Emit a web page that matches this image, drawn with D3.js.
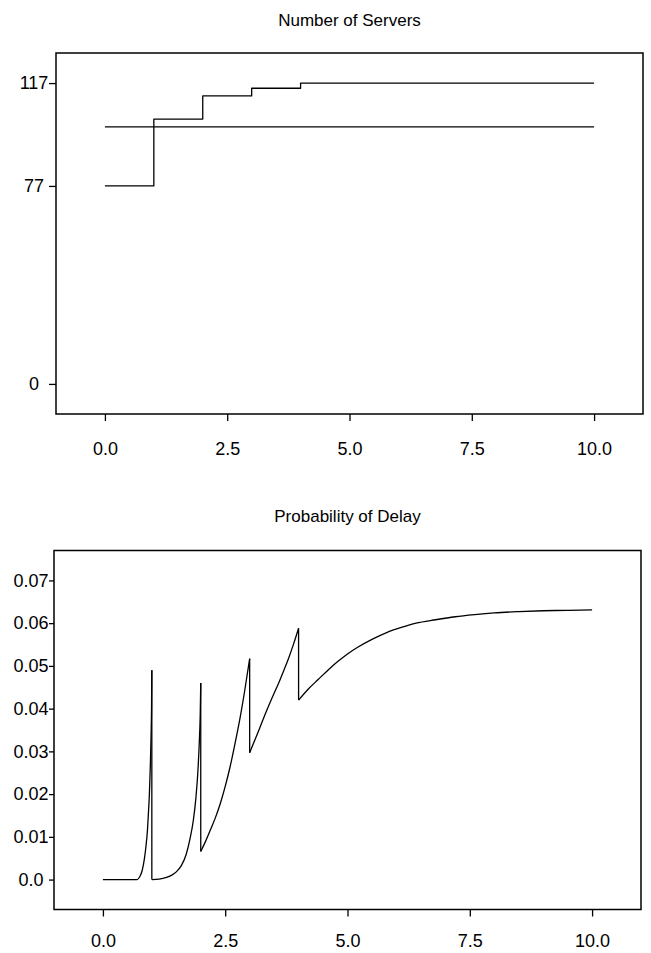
<!DOCTYPE html>
<html>
<head>
<meta charset="utf-8">
<script src="https://cdn.jsdelivr.net/npm/d3@7"></script>
<style>
    body { margin: 0; background: #fff; }
    text { font-family: "Liberation Sans", Arial, Helvetica, sans-serif; fill: #000; }
</style>
</head>
<body>
<svg id="chart-svg"></svg>
<script>
// top panel: number of servers (step function) and the constant reference level
var serverTimes = [0, 1, 2, 3, 4, 10]
var serverCounts = [77, 103, 112, 115, 117, 117]
var referenceTimes = [0, 10]
var referenceCounts = [100, 100]
var serverTicks = [0, 77, 117]

// bottom panel: probability of delay (a repeated time = jump at a staffing change)
var delayTimes = [0, 0.7, 0.75, 0.8, 0.85, 0.88, 0.91, 0.93, 0.95, 0.97, 0.985, 0.995, 1.0,
    1.0, 1.15, 1.3, 1.4, 1.5, 1.6, 1.7, 1.78, 1.85, 1.9, 1.94, 1.97, 1.99, 2.0,
    2.0, 2.1, 2.2, 2.3, 2.4, 2.5, 2.6, 2.7, 2.8, 2.9, 3.0,
    3.0, 3.1, 3.2, 3.3, 3.45, 3.6, 3.7, 3.8, 3.9, 4.0,
    4.0, 4.2, 4.4, 4.6, 4.8, 5.0, 5.2, 5.5, 5.8, 6.1, 6.4, 6.8, 7.2, 7.6, 8.0, 8.5, 9.0, 9.5, 10.0]
var delayProbs = [0, 0, 0.0006, 0.002, 0.005, 0.0078, 0.0115, 0.0155, 0.020, 0.027, 0.034, 0.041, 0.049,
    0, 0.0001, 0.0005, 0.001, 0.0018, 0.0032, 0.0058, 0.0095, 0.014, 0.019, 0.025, 0.032, 0.039, 0.046,
    0.0066, 0.009, 0.0117, 0.0145, 0.0178, 0.0218, 0.0264, 0.0318, 0.0376, 0.0443, 0.0517,
    0.0297, 0.0325, 0.0353, 0.0382, 0.0423, 0.0462, 0.049, 0.0519, 0.0552, 0.0588,
    0.042, 0.0446, 0.0468, 0.049, 0.051, 0.0528, 0.0543, 0.0562, 0.0578, 0.059, 0.06, 0.0608, 0.0615, 0.062, 0.0624, 0.0627, 0.0629, 0.063, 0.0631]
var delayTicks = [0, 0.01, 0.02, 0.03, 0.04, 0.05, 0.06, 0.07]
var delayTickLabels = ["0.0", "0.01", "0.02", "0.03", "0.04", "0.05", "0.06", "0.07"]

// shared x axis
var timeTicks = [0, 2.5, 5, 7.5, 10]
var timeTickLabels = ["0.0", "2.5", "5.0", "7.5", "10.0"]

var svg = d3.select("#chart-svg")
    .attr("width", 651)
    .attr("height", 953)

svg.append("rect")
   .attr("width", 651)
   .attr("height", 953)
   .attr("fill", "#fff")

// split a series into smooth pieces wherever the time repeats
function splitAtJumps(ts, vs){
    var pieces = [[]]
    ts.forEach((t, i) => {
        if(i > 0 && t == ts[i - 1]){
            pieces.push([])
        }
        pieces[pieces.length - 1].push([t, vs[i]])
    })
    return pieces
}

function drawPanel(opts){
    var g = svg.append("g")

    var x = d3.scaleLinear()
              .domain([-1, 11])
              .range([opts.left, opts.right])
    var y = d3.scaleLinear()
              .domain(opts.yDomain)
              .range([opts.bottom, opts.top])

    // title
    g.append("text")
     .attr("x", (opts.left + opts.right) / 2)
     .attr("y", opts.titleY)
     .attr("text-anchor", "middle")
     .attr("font-size", "17px")
     .text(opts.title)

    // frame
    g.append("rect")
     .attr("x", opts.left)
     .attr("y", opts.top)
     .attr("width", opts.right - opts.left)
     .attr("height", opts.bottom - opts.top)
     .attr("fill", "none")
     .attr("stroke", "#000")
     .attr("stroke-width", 1.5)

    // y axis
    var yAxis = g.append("g")
       .attr("transform", `translate(${opts.left},0)`)
       .call(d3.axisLeft(y).tickValues(opts.yTicks)
                .tickSize(opts.yTickLen)
                .tickFormat((d, i) => opts.yLabels[i]))
    yAxis.select(".domain").remove()
    yAxis.selectAll(".tick line").attr("stroke", "#000").attr("stroke-width", 1.3)
    yAxis.selectAll(".tick text")
         .attr("x", -opts.yLabelOffset)
         .attr("text-anchor", "middle")
         .attr("font-size", "18px")
         .attr("font-family", null)
         .attr("fill", "#000")

    // x axis
    var xAxis = g.append("g")
       .attr("transform", `translate(0,${opts.bottom})`)
       .call(d3.axisBottom(x).tickValues(timeTicks)
                .tickSize(7)
                .tickFormat((d, i) => timeTickLabels[i]))
    xAxis.select(".domain").remove()
    xAxis.selectAll(".tick line").attr("stroke", "#000").attr("stroke-width", 1.3)
    xAxis.selectAll(".tick text")
         .attr("y", opts.xLabelOffset)
         .attr("dy", "0.35em")
         .attr("font-size", "18px")
         .attr("font-family", null)
         .attr("fill", "#000")

    opts.series.forEach((s) => {
        var pieces = s.split ? splitAtJumps(s.t, s.v) : [s.t.map((t, i) => [t, s.v[i]])]
        var line = d3.line()
                     .x((d) => x(d[0]))
                     .y((d) => y(d[1]))
                     .curve(s.curve)
        pieces.forEach((pts, k) => {
            g.append("path")
             .datum(pts)
             .attr("d", line)
             .attr("fill", "none")
             .attr("stroke", "#000")
             .attr("stroke-width", 1.3)
             .attr("stroke-linejoin", "round")
            // vertical drop into the next piece
            if(k < pieces.length - 1){
                var a = pts[pts.length - 1], b = pieces[k + 1][0]
                g.append("path")
                 .datum([a, b])
                 .attr("d", d3.line().x((d) => x(d[0])).y((d) => y(d[1])))
                 .attr("fill", "none")
                 .attr("stroke", "#000")
                 .attr("stroke-width", 1.3)
            }
        })
    })
}

drawPanel({
    title: "Number of Servers",
    titleY: 26,
    left: 56, right: 643, top: 53, bottom: 414,
    yDomain: [-11.7, 128.7],
    yTicks: serverTicks,
    yLabels: serverTicks.map(String),
    yTickLen: 7,
    yLabelOffset: 22,
    xLabelOffset: 35,
    series: [
        {t: serverTimes, v: serverCounts, curve: d3.curveStepAfter},
        {t: referenceTimes, v: referenceCounts, curve: d3.curveLinear}
    ]
})

drawPanel({
    title: "Probability of Delay",
    titleY: 522,
    left: 54, right: 641, top: 550.5, bottom: 909.5,
    yDomain: [-0.007, 0.077],
    yTicks: delayTicks,
    yLabels: delayTickLabels,
    yTickLen: 5,
    yLabelOffset: 23,
    xLabelOffset: 31,
    series: [
        {t: delayTimes, v: delayProbs, curve: d3.curveMonotoneX, split: true}
    ]
})
</script>
</body>
</html>
